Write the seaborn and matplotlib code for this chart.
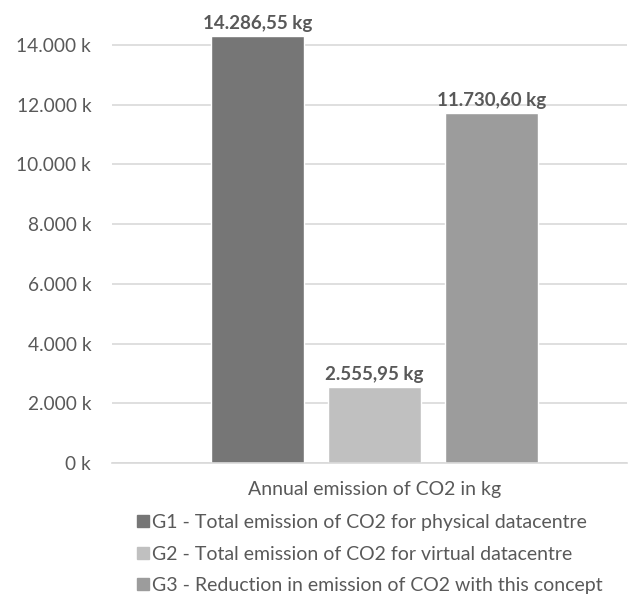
import matplotlib
matplotlib.use("Agg")
import matplotlib.pyplot as plt
import seaborn as sns
import pandas as pd
from matplotlib.lines import Line2D

category = ["Annual emission of CO2 in kg"]
series = [
    "G1 - Total emission of CO2 for physical datacentre",
    "G2 - Total emission of CO2 for virtual datacentre",
    "G3 - Reduction in emission of CO2 with this concept",
]
values = [14286.55, 2555.95, 11730.60]
colors = ["#767676", "#c0c0c0", "#9c9c9c"]
yticks = [0, 2000, 4000, 6000, 8000, 10000, 12000, 14000]

df = pd.DataFrame({"cat": category * len(series), "series": series, "value": values})

sns.set_style("white")
plt.rcParams["font.family"] = ["Lato", "DejaVu Sans"]
text_color = "#595959"


def eu(v, decimals=0):
    s = f"{v:,.{decimals}f}"
    return s.replace(",", "X").replace(".", ",").replace("X", ".")


fig = plt.figure(figsize=(6.36, 6.05), dpi=100)
ax = fig.add_axes([112 / 636, 142 / 605, 515 / 636, (463 - 36) / 605])

sns.barplot(data=df, x="cat", y="value", hue="series", palette=colors,
            hue_order=series, gap=0.21, width=0.8, ax=ax, legend=False,
            saturation=1)

ax.set_ylim(0, 14300)
ax.set_xlim(-0.598, 0.575)
ax.set_yticks(yticks)
ax.set_yticklabels([f"{eu(t)} k" for t in yticks], color=text_color, fontsize=13.8)
ax.tick_params(axis="y", length=0, pad=15)
ax.tick_params(axis="x", length=0, pad=13, labelsize=14, labelcolor=text_color)
ax.set_xlabel("")
ax.set_ylabel("")
ax.grid(axis="y", color="#d9d9d9", linewidth=1.2)
ax.set_axisbelow(True)
for s in ["left", "right", "top"]:
    ax.spines[s].set_visible(False)
ax.spines["bottom"].set_color("#d9d9d9")
ax.spines["bottom"].set_linewidth(1.2)

for patch, v in zip(ax.patches, values):
    ax.annotate(f"{eu(v, 2)} kg", (patch.get_x() + patch.get_width() / 2, v),
                xytext=(0, 3), textcoords="offset points", ha="center", va="bottom",
                fontsize=13.5, fontweight="bold", color=text_color, clip_on=False)

handles = [Line2D([0], [0], marker="s", linestyle="", markersize=8,
                  markerfacecolor=c, markeredgecolor=c) for c in colors]
fig.legend(handles, series, loc="upper left", bbox_to_anchor=(134 / 636, 1 - 514 / 605),
           frameon=False, fontsize=14, labelcolor=text_color, handletextpad=0.0,
           labelspacing=0.75, handlelength=0.9, borderpad=0, borderaxespad=0)

fig.savefig("out.png", dpi=100)
